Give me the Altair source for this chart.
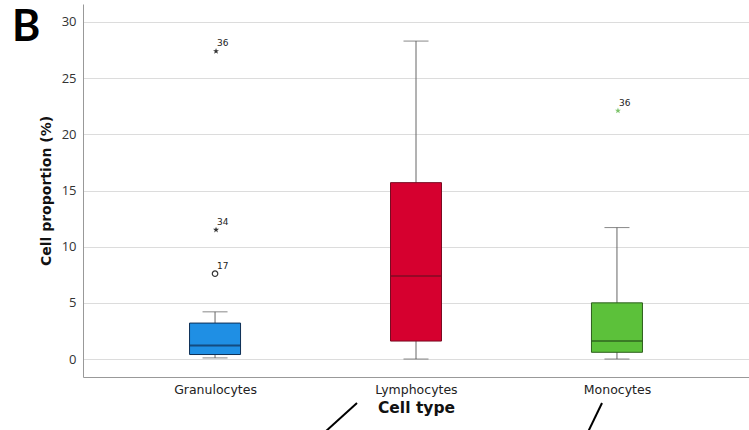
import altair as alt
import pandas as pd

categories = ["Granulocytes", "Lymphocytes", "Monocytes"]
whisker_low = [0.1, 0.0, 0.0]
q1 = [0.4, 1.6, 0.6]
median = [1.2, 7.4, 1.6]
q3 = [3.2, 15.7, 5.0]
whisker_high = [4.2, 28.3, 11.7]
box_fill = ["#1f8fe4", "#d6002f", "#5cc13a"]
box_dark = ["#0e2f55", "#7a0b22", "#2c5e1c"]

out_cat = ["Granulocytes", "Granulocytes", "Granulocytes", "Monocytes"]
out_val = [27.4, 11.5, 7.6, 22.1]
out_label = ["36", "34", "17", "36"]
out_kind = ["extreme", "extreme", "outlier", "extreme"]
out_color = ["#333333", "#333333", "#333333", "#7cc36a"]

box = pd.DataFrame({
    "cat": categories, "lo": whisker_low, "q1": q1, "med": median,
    "q3": q3, "hi": whisker_high, "fill": box_fill, "dark": box_dark,
})
outl = pd.DataFrame({"cat": out_cat, "v": out_val, "lab": out_label,
                     "kind": out_kind, "col": out_color})

STAR = ("M0,-1L0.235,-0.324L0.951,-0.309L0.380,0.124L0.588,0.809L0,0.4"
        "L-0.588,0.809L-0.380,0.124L-0.951,-0.309L-0.235,-0.324Z")

LFONT = "DejaVu Sans"
xscale = alt.Scale(type="point", padding=0.657)
xenc = alt.X("cat:N", sort=categories, scale=xscale,
             axis=alt.Axis(title="Cell type", labelAngle=0, labelFontSize=12.5,
                           labelColor="#222", labelFont=LFONT, labelPadding=6,
                           titleFont=LFONT, titleFontSize=15.5, titleFontWeight="bold",
                           titleColor="#111", titlePadding=5, domainColor="#999",
                           ticks=False, grid=False, orient="bottom"))
yscale = alt.Scale(domain=[-1.6, 31.6], nice=False, zero=False)
yenc = alt.Y("lo:Q", scale=yscale,
             axis=alt.Axis(title="Cell proportion (%)", values=[0, 5, 10, 15, 20, 25, 30],
                           labelFontSize=13, labelColor="#333", labelFont="Open Sans",
                           labelPadding=7, ticks=False, domainColor="#999",
                           gridColor="#dcdcdc", titleFont=LFONT, titleFontSize=14,
                           titleFontWeight="bold", titleColor="#111", titlePadding=8,
                           orient="left"))

xs = alt.X("cat:N", sort=categories, scale=xscale)

base = alt.Chart(box)
whisk = base.mark_rule(color="#666", strokeWidth=1).encode(x=xenc, y=yenc, y2="hi:Q")
cap_lo = base.mark_tick(size=25, thickness=1, color="#555").encode(
    x=xs, y=alt.Y("lo:Q", scale=yscale))
cap_hi = base.mark_tick(size=25, thickness=1, color="#555").encode(
    x=xs, y=alt.Y("hi:Q", scale=yscale))
bars = base.mark_bar(size=51, strokeWidth=1).encode(
    x=xs, y=alt.Y("q1:Q", scale=yscale), y2="q3:Q",
    fill=alt.Fill("fill:N", scale=None), stroke=alt.Stroke("dark:N", scale=None))
med = base.mark_tick(size=51, thickness=2).encode(
    x=xs, y=alt.Y("med:Q", scale=yscale),
    color=alt.Color("dark:N", scale=None))

ob = alt.Chart(outl)
stars = ob.transform_filter(alt.datum.kind == "extreme").mark_point(
    shape=STAR, filled=True, size=40, opacity=1, xOffset=1).encode(
    x=xs, y=alt.Y("v:Q", scale=yscale),
    color=alt.Color("col:N", scale=None))
circ = ob.transform_filter(alt.datum.kind == "outlier").mark_point(
    shape="circle", filled=False, size=30, strokeWidth=1.2, opacity=1).encode(
    x=xs, y=alt.Y("v:Q", scale=yscale),
    color=alt.Color("col:N", scale=None))
labels = ob.mark_text(align="left", baseline="bottom", dx=2, dy=-3, fontSize=9,
                      font=LFONT, color="#222").encode(
    x=xs, y=alt.Y("v:Q", scale=yscale), text="lab:N")

panel = alt.Chart(pd.DataFrame({"t": ["B"]})).mark_text(
    align="left", baseline="alphabetic", fontSize=43, fontWeight="bold",
    font="Lato", color="#000").encode(
    x=alt.value(-71), y=alt.value(36.7), text="t:N")

line1 = alt.Chart(pd.DataFrame({"a": [0]})).mark_rule(color="#000", strokeWidth=2).encode(
    x=alt.value(242), y=alt.value(428), x2=alt.value(274), y2=alt.value(399))
line2 = alt.Chart(pd.DataFrame({"a": [0]})).mark_rule(color="#000", strokeWidth=2).encode(
    x=alt.value(505), y=alt.value(428), x2=alt.value(519), y2=alt.value(399))

chart = alt.layer(whisk, cap_lo, cap_hi, bars, med, stars, circ, labels, panel, line1, line2).properties(
    width=666, height=373,
    autosize=alt.AutoSizeParams(type="none"),
    padding={"left": 83, "top": 4, "right": 0, "bottom": 53},
    background="white",
).configure_view(stroke=None)

chart.save("out.html", embed_options={"renderer": "svg", "actions": False})
